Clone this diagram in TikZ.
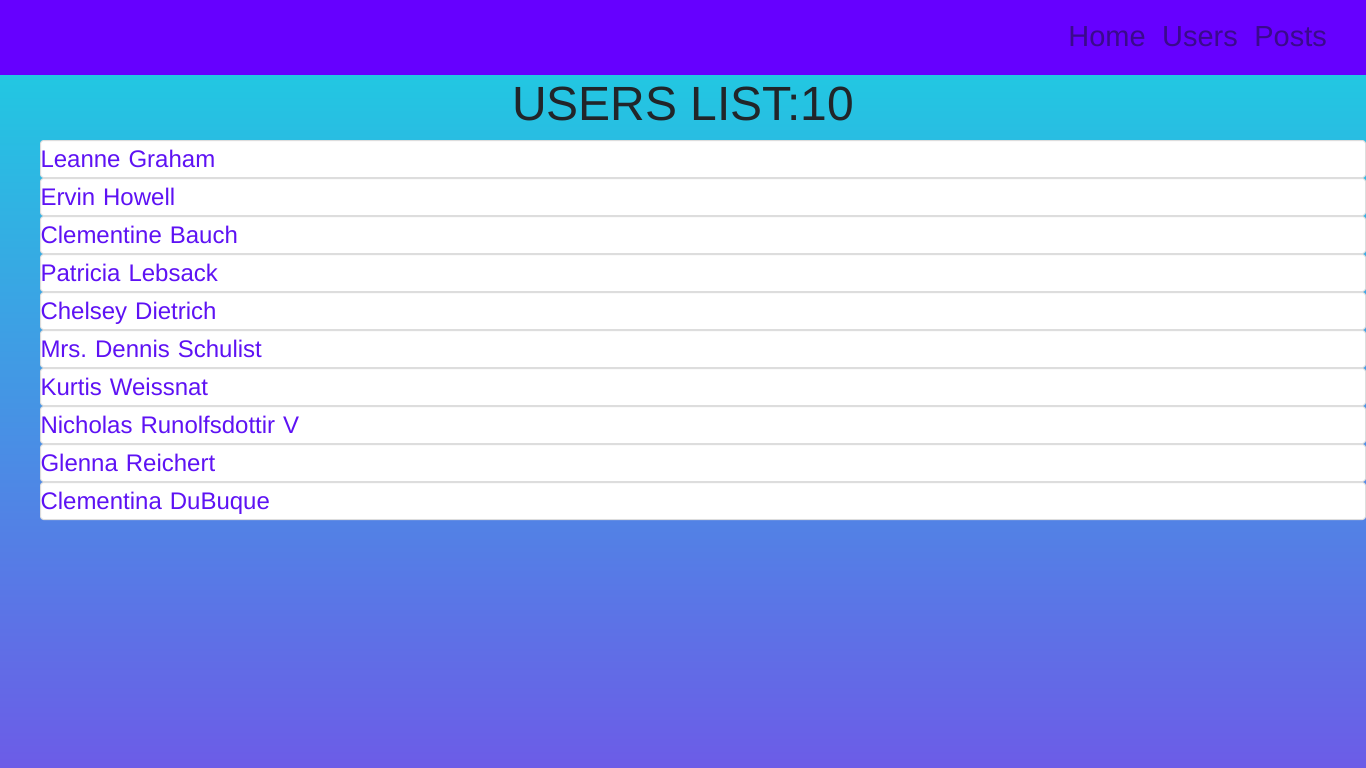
\documentclass[tikz,border=0pt]{standalone}
\usepackage{fontspec}
\setmainfont{Liberation Sans}
\definecolor{HeaderPurple}{HTML}{6600FF}
\definecolor{NavText}{HTML}{3A0A8C}
\definecolor{TitleDark}{HTML}{212529}
\definecolor{NameIndigo}{HTML}{5E12F4}
\definecolor{RowBorder}{HTML}{DDDDDD}
\definecolor{BgCyan}{HTML}{22C7E2}
\definecolor{BgViolet}{HTML}{6C5CE7}
\usetikzlibrary{positioning}
\tikzset{
  % Text styles
  navlink/.style={inner sep=0pt, text=NavText, font=\fontsize{29pt}{34pt}\selectfont},
  titletext/.style={inner sep=0pt, text=TitleDark, font=\fontsize{48pt}{56pt}\selectfont},
  % Box styles
  userrow/.style={rectangle, rounded corners=3pt, draw=RowBorder, line width=1pt, fill=white, minimum width=1325pt, minimum height=37pt, inner xsep=0pt, inner ysep=0pt, text width=1325pt, align=left, text height=20pt, text depth=4pt, text=NameIndigo, font=\fontsize{24pt}{28pt}\selectfont}
}
\begin{document}
\begin{tikzpicture}[x=1pt, y=-1pt]
  \useasboundingbox (0,0) rectangle (1366,768);

  % Background
  \shade[top color=BgCyan, bottom color=BgViolet] (0,75) rectangle (1366,768);

  % Header bar
  \fill[HeaderPurple] (0,0) rectangle (1366,75);
  \node[navlink, anchor=base east] (posts) at (1327,47) {Posts};
  \node[navlink, base left=16pt of posts] (users) {Users};
  \node[navlink, base left=16pt of users] (home) {Home};

  % Title
  \node[titletext, anchor=base] (title) at (683,120) {USERS LIST:10};

  % Users list
  \node[userrow, anchor=north west] (u1) at (40,140) {Leanne Graham};
  \node[userrow, below=0pt of u1] (u2) {Ervin Howell};
  \node[userrow, below=0pt of u2] (u3) {Clementine Bauch};
  \node[userrow, below=0pt of u3] (u4) {Patricia Lebsack};
  \node[userrow, below=0pt of u4] (u5) {Chelsey Dietrich};
  \node[userrow, below=0pt of u5] (u6) {Mrs.\ Dennis Schulist};
  \node[userrow, below=0pt of u6] (u7) {Kurtis Weissnat};
  \node[userrow, below=0pt of u7] (u8) {Nicholas Runolfsdottir V};
  \node[userrow, below=0pt of u8] (u9) {Glenna Reichert};
  \node[userrow, below=0pt of u9] (u10) {Clementina DuBuque};
\end{tikzpicture}
\end{document}
